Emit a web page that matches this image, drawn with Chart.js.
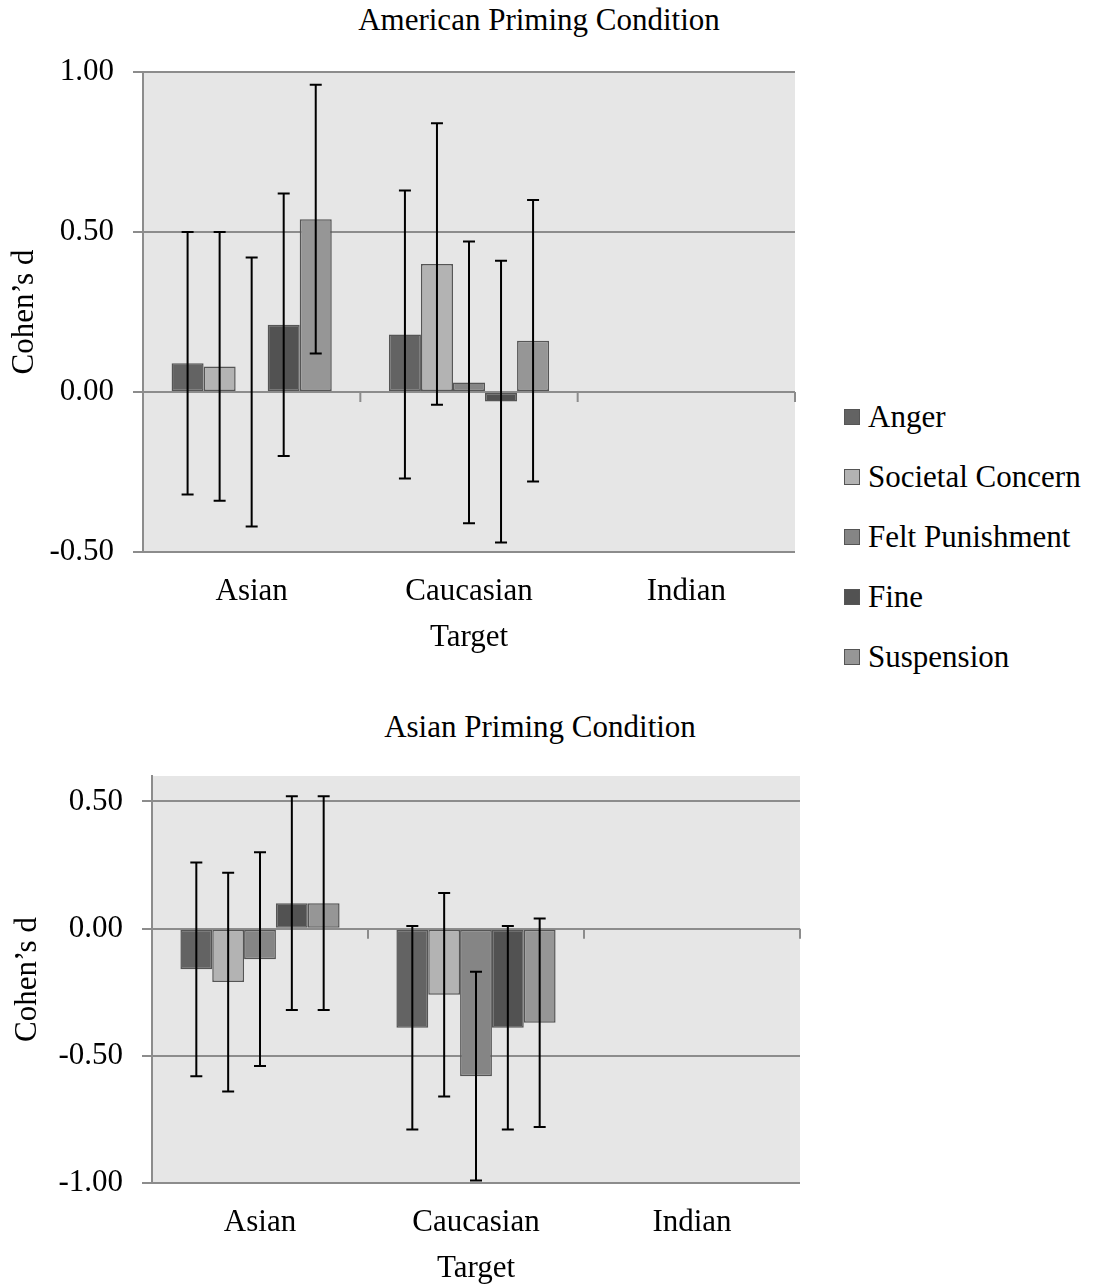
<!DOCTYPE html>
<html>
<head>
<meta charset="utf-8">
<script src="https://cdn.jsdelivr.net/npm/chart.js@4.4.1/dist/chart.umd.min.js"></script>
<style>
  html, body { margin: 0; padding: 0; background: #fff; }
  body { width: 1094px; height: 1287px; position: relative; overflow: hidden; font-family: 'Liberation Serif', 'Times New Roman', serif; }
  .title { position: absolute; left: 0; width: 1078px; text-align: center; font-size: 31px; line-height: 31px; color: #000; }
  #topChart { position: absolute; left: 0; top: 0; }
  #bottomChart { position: absolute; left: 0; top: 700px; }
  .legend { position: absolute; left: 844px; top: 387px; }
  .legend .item { height: 60px; display: flex; align-items: center; font-size: 31px; color: #000; }
  .legend .swatch { width: 14px; height: 14px; border: 1px solid #555; margin-right: 8px; }
</style>
</head>
<body>
<div class="title" style="top:4px">American Priming Condition</div>
<canvas id="topChart" width="800" height="660"></canvas>
<div class="legend" id="legend"></div>
<div class="title" style="top:711px;width:1080px">Asian Priming Condition</div>
<canvas id="bottomChart" width="805" height="587"></canvas>
<script>
const categories = ['Asian', 'Caucasian', 'Indian'];
const seriesNames = ['Anger', 'Societal Concern', 'Felt Punishment', 'Fine', 'Suspension'];
const seriesColors = ['#636363', '#b3b3b3', '#858585', '#525252', '#969696'];

// American priming condition: Cohen's d and error bar ends
const amAnger = [0.09, 0.18, null];
const amSocietal = [0.08, 0.40, null];
const amFelt = [0.00, 0.03, null];
const amFine = [0.21, -0.03, null];
const amSuspension = [0.54, 0.16, null];
const amLow = [[-0.32, -0.27, null], [-0.34, -0.04, null], [-0.42, -0.41, null], [-0.20, -0.47, null], [0.12, -0.28, null]];
const amHigh = [[0.50, 0.63, null], [0.50, 0.84, null], [0.42, 0.47, null], [0.62, 0.41, null], [0.96, 0.60, null]];
const amTicks = [-0.5, 0, 0.5, 1.0];

// Asian priming condition
const asAnger = [-0.16, -0.39, null];
const asSocietal = [-0.21, -0.26, null];
const asFelt = [-0.12, -0.58, null];
const asFine = [0.10, -0.39, null];
const asSuspension = [0.10, -0.37, null];
const asLow = [[-0.58, -0.79, null], [-0.64, -0.66, null], [-0.54, -0.99, null], [-0.32, -0.79, null], [-0.32, -0.78, null]];
const asHigh = [[0.26, 0.01, null], [0.22, 0.14, null], [0.30, -0.17, null], [0.52, 0.01, null], [0.52, 0.04, null]];
const asTicks = [-1.0, -0.5, 0, 0.5];

Chart.defaults.font.family = "'Liberation Serif', 'Times New Roman', serif";
Chart.defaults.color = '#000';

const gridGray = '#8c8c8c';

// grey plot area
const plotBg = {
  id: 'plotBg',
  beforeDraw(chart) {
    const { ctx, chartArea: a } = chart;
    ctx.save();
    ctx.fillStyle = '#e6e6e6';
    ctx.fillRect(a.left, a.top, a.right - a.left, a.bottom - a.top);
    ctx.restore();
  }
};

// small category tick marks hanging under the zero line
const zeroTicks = {
  id: 'zeroTicks',
  beforeDatasetsDraw(chart) {
    const { ctx, chartArea: a, scales } = chart;
    const y0 = scales.y.getPixelForValue(0);
    const n = categories.length;
    ctx.save();
    ctx.strokeStyle = gridGray;
    ctx.lineWidth = 2;
    for (let i = 0; i <= n; i++) {
      const x = a.left + i * (a.right - a.left) / n;
      ctx.beginPath();
      ctx.moveTo(x, y0);
      ctx.lineTo(x, y0 + 10);
      ctx.stroke();
    }
    ctx.restore();
  }
};

const errorBars = {
  id: 'errorBars',
  afterDatasetsDraw(chart) {
    const { ctx, scales } = chart;
    ctx.save();
    ctx.strokeStyle = '#000';
    ctx.lineWidth = 2;
    chart.data.datasets.forEach((ds, i) => {
      const meta = chart.getDatasetMeta(i);
      meta.data.forEach((bar, j) => {
        const lo = ds.errLow[j], hi = ds.errHigh[j];
        if (lo == null || hi == null) return;
        const x = bar.x;
        const yl = scales.y.getPixelForValue(lo);
        const yh = scales.y.getPixelForValue(hi);
        ctx.beginPath();
        ctx.moveTo(x, yh); ctx.lineTo(x, yl);
        ctx.moveTo(x - 6, yh); ctx.lineTo(x + 6, yh);
        ctx.moveTo(x - 6, yl); ctx.lineTo(x + 6, yl);
        ctx.stroke();
      });
    });
    ctx.restore();
  }
};

function makeChart(id, series, lows, highs, yMin, yMax, yTicks, yWidth, xHeight, pad, yTitlePad, xTitlePad) {
  return new Chart(document.getElementById(id), {
    type: 'bar',
    data: {
      labels: categories,
      datasets: series.map((vals, i) => ({
        label: seriesNames[i],
        data: vals,
        errLow: lows[i],
        errHigh: highs[i],
        backgroundColor: seriesColors[i],
        borderColor: '#555',
        borderWidth: 1.5,
        borderSkipped: false,
        categoryPercentage: 0.737,
        barPercentage: 1
      }))
    },
    options: {
      responsive: false,
      animation: false,
      layout: { padding: pad },
      plugins: { legend: { display: false }, tooltip: { enabled: false } },
      scales: {
        x: {
          grid: { display: false, drawTicks: false },
          border: { display: false },
          afterFit: s => { s.height = xHeight; },
          ticks: { padding: 21, font: { size: 31 }, maxRotation: 0, autoSkip: false },
          title: { display: true, text: 'Target', font: { size: 31 }, padding: { top: 0, bottom: xTitlePad } }
        },
        y: {
          min: yMin,
          max: yMax,
          afterBuildTicks: s => { s.ticks = yTicks.map(v => ({ value: v })); },
          afterFit: s => { s.width = yWidth; },
          grid: { color: gridGray, lineWidth: 2, tickLength: 10, drawTicks: true },
          border: { display: true, color: gridGray, width: 2 },
          ticks: { padding: 19, font: { size: 31 }, callback: v => Number(v).toFixed(2) },
          title: { display: true, text: 'Cohen’s d', font: { size: 31 }, padding: { top: yTitlePad, bottom: 0 } }
        }
      }
    },
    plugins: [plotBg, zeroTicks, errorBars]
  });
}

makeChart('topChart', [amAnger, amSocietal, amFelt, amFine, amSuspension], amLow, amHigh,
  -0.5, 1.0, amTicks, 143, 106, { top: 72, right: 5, bottom: 2, left: 0 }, 6, 2);

makeChart('bottomChart', [asAnger, asSocietal, asFelt, asFine, asSuspension], asLow, asHigh,
  -1.0, 0.6, asTicks, 152, 104, { top: 76, right: 5, bottom: 0, left: 0 }, 9, 0);

// legend (shared, beside the top chart)
const legend = document.getElementById('legend');
seriesNames.forEach((name, i) => {
  const item = document.createElement('div');
  item.className = 'item';
  const sw = document.createElement('span');
  sw.className = 'swatch';
  sw.style.background = seriesColors[i];
  item.appendChild(sw);
  item.appendChild(document.createTextNode(name));
  legend.appendChild(item);
});
</script>
</body>
</html>
